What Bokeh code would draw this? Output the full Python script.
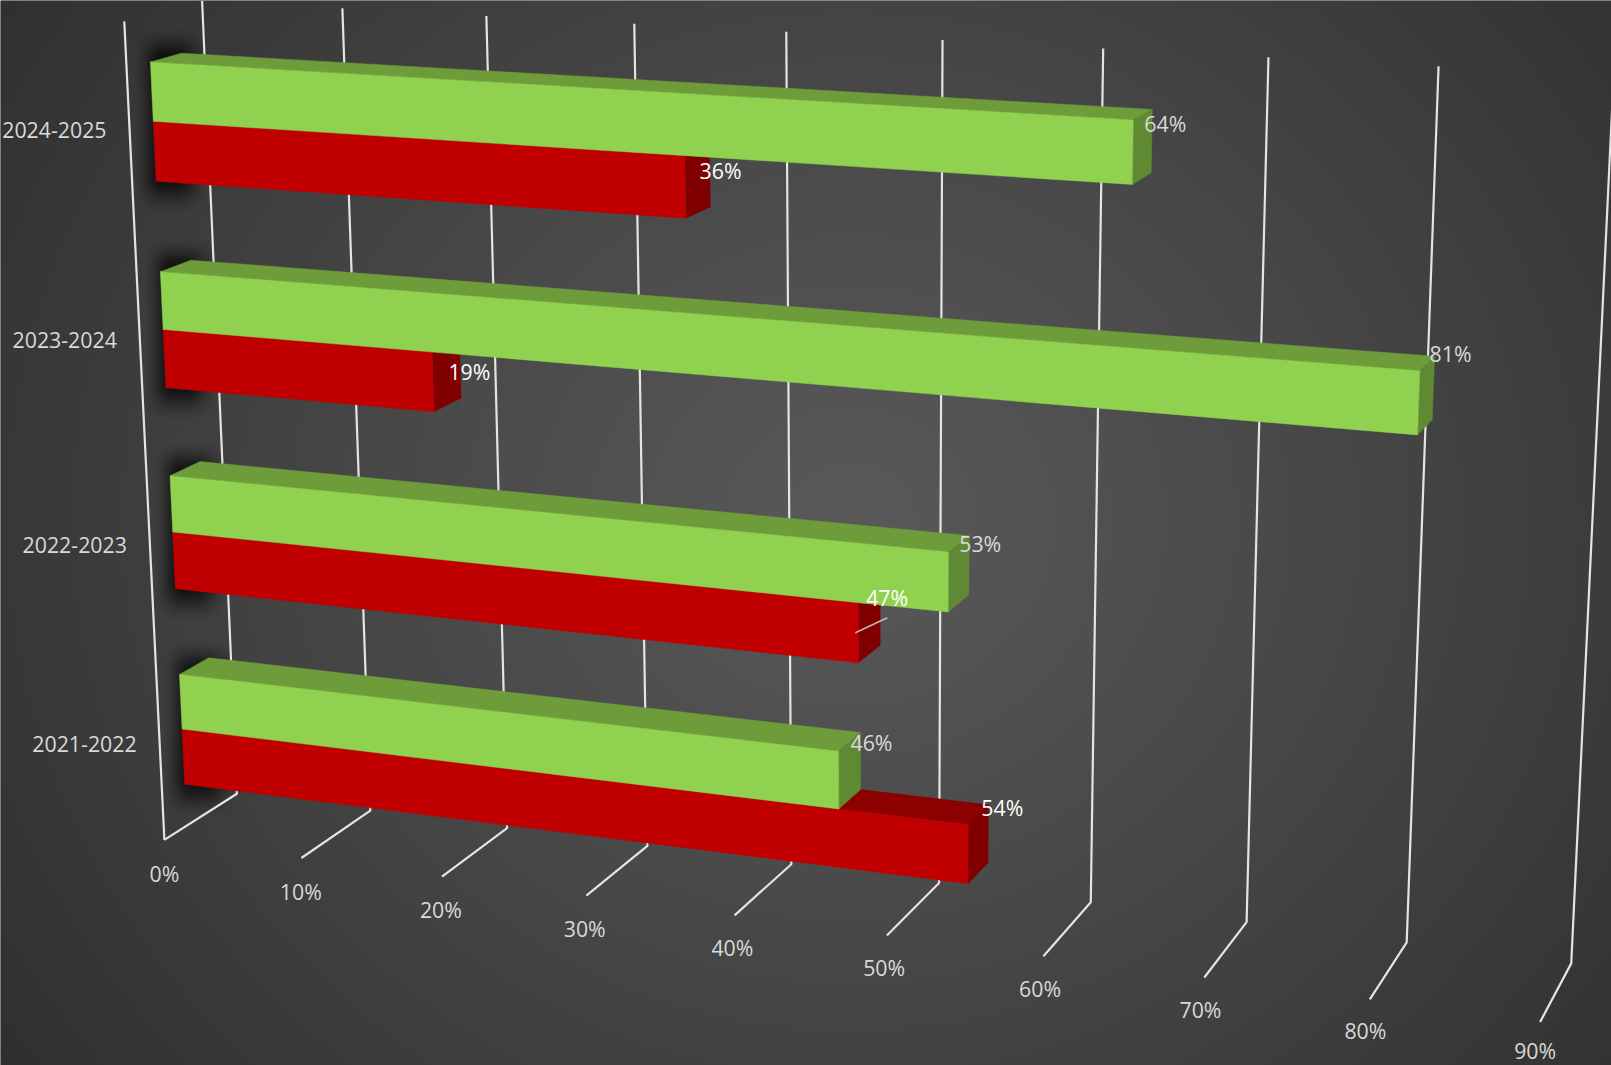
import numpy as np
from bokeh.plotting import figure
from bokeh.models import Range1d
from bokeh.core.properties import value
from bokeh.embed import file_html
from bokeh.resources import INLINE

# ---- data
categories = ["2021-2022", "2022-2023", "2023-2024", "2024-2025"]
green_values = [45.8, 52.85, 81.0, 63.9]
red_values = [54.2, 47.1, 18.95, 36.1]
tick_values = [0, 10, 20, 30, 40, 50, 60, 70, 80, 90]
tick_labels = ["0%", "10%", "20%", "30%", "40%", "50%", "60%", "70%", "80%", "90%"]

# ---- camera calibration: where the chart's box lands on the page (picture units)
K = 1611 / 1568
front_floor = [(159, 817), (293, 835), (430, 853), (570, 872), (714, 890), (863, 910),
               (1015, 930), (1172, 951), (1333, 972), (1498, 994)]
back_floor = [(230, 772), (360, 789), (493, 805), (630, 822), (770, 840), (914, 858),
              (1061, 879), (1213, 897), (1368, 918), (1529, 937)]
back_top = [(196, 0), (333, 8), (473, 16), (616, 23), (765, 30), (916, 38),
            (1074, 47), (1234, 55), (1400, 64)]
front_top_left = (121, 20)

N_CAT = 4
V_MAX = 90.0
world, image = [], []
for v, p_ in zip(tick_values, front_floor):
    world.append((v, 0, 0)); image.append(p_)
for v, p_ in zip(tick_values, back_floor):
    world.append((v, 0, 1)); image.append(p_)
for v, p_ in zip(tick_values, back_top):
    world.append((v, N_CAT, 1)); image.append(p_)
world.append((0, N_CAT, 0)); image.append(front_top_left)

rows = []
for (v, c, d), (px, py) in zip(world, image):
    X = np.array([v / V_MAX, c / N_CAT, d, 1.0])
    u, w = px * K / 1000, py * K / 1000
    rows.append(np.r_[X, np.zeros(4), -u * X])
    rows.append(np.r_[np.zeros(4), X, -w * X])
P = np.linalg.svd(np.array(rows))[2][-1].reshape(3, 4)


def project(v, c, d):
    X = np.array([v / V_MAX, c / N_CAT, d, 1.0])
    h = P @ X
    return h[0] / h[2] * 1000, h[1] / h[2] * 1000


# ---- bar shape in the box
D_FRONT, D_BACK = 0.30, 0.70
RED_LOW, MID, GREEN_HIGH = 0.215, 0.50, 0.78

W, H = 1611, 1065
p = figure(width=W, height=H, output_backend="svg", toolbar_location=None,
           x_range=Range1d(0, W), y_range=Range1d(H, 0),
           x_axis_type=None, y_axis_type=None, min_border=0,
           outline_line_color=None, background_fill_color="#3a3a3a",
           border_fill_color="#3a3a3a")
p.grid.visible = False

# ---- background: radial gradient plus the dark blur behind the bars' left ends
yy, xx = np.mgrid[0:H, 0:W]
xx = xx + 0.0
yy = yy + 0.0
CENTER = (850, 520)
t = np.sqrt(((xx - CENTER[0]) / 1100) ** 2 + ((yy - CENTER[1]) / 1000) ** 2)
t = np.clip(t, 0, 1)
shade = 89 - 44 * t ** 1.1


def sstep(a):
    a = np.clip(a, 0, 1)
    return a * a * (3 - 2 * a)


for i in range(N_CAT):
    L, T = project(0, i + GREEN_HIGH, D_FRONT)
    _, B = project(0, i + RED_LOW, D_FRONT)
    sx = sstep((xx - (L - 18)) / 30) * (1 - sstep((xx - (L + 25)) / 35))
    sy = sstep((yy - (T - 36)) / 36) * (1 - sstep((yy - (B - 6)) / 40))
    shade = shade * (1 - 0.75 * sx * sy)
g = shade.astype(np.uint32)
img = (255 << 24) | (g << 16) | (g << 8) | g
p.image_rgba(image=[img.astype(np.uint32)], x=0, y=0, dw=W, dh=H)

# ---- grid lines
GRID = "#e4e4e4"
for v in tick_values:
    a = project(v, 0, 0); b = project(v, 0, 1); c_ = project(v, N_CAT, 1)
    p.line([a[0], b[0], c_[0]], [a[1], b[1], c_[1]], line_color=GRID, line_width=2.2)
a = project(0, 0, 0); b = project(0, N_CAT, 0)
p.line([a[0], b[0]], [a[1], b[1]], line_color=GRID, line_width=2.2)


# ---- bars
def box(val, c0, c1, front, top, side):
    pts = {
        "ftl": project(0, c1, D_FRONT), "ftr": project(val, c1, D_FRONT),
        "fbl": project(0, c0, D_FRONT), "fbr": project(val, c0, D_FRONT),
        "btl": project(0, c1, D_BACK), "btr": project(val, c1, D_BACK),
        "bbr": project(val, c0, D_BACK),
    }
    faces = [(["ftl", "ftr", "btr", "btl"], top),
             (["ftr", "fbr", "bbr", "btr"], side),
             (["ftl", "ftr", "fbr", "fbl"], front)]
    for names, col in faces:
        p.patch([pts[n][0] for n in names], [pts[n][1] for n in names],
                fill_color=col, line_color=col, line_width=0.5)


for i in reversed(range(N_CAT)):
    box(red_values[i], i + RED_LOW, i + MID, "#C00000", "#8C0000", "#800000")
    box(green_values[i], i + MID, i + GREEN_HIGH, "#90D24F", "#6F9C3B", "#5F8A33")

# ---- 47% leader line
s = project(red_values[1], 1 + (RED_LOW + MID) / 2, D_FRONT)
p.line([s[0] - 3, s[0] + 29], [s[1] + 0, s[1] - 15], line_color="#d0b0b0", line_width=1.5)

# ---- labels
FONT = value("Open Sans")
SIZE = value("21.3px")
TXT = "#d9d9d9"

tx, ty = [], []
for v in tick_values:
    x_, y_ = project(v, 0, 0)
    tx.append(x_ - v * 0.055)
    ty.append(y_ + 32.5 * K - v * 0.025)
ty[-1] -= 3
p.text(x=tx, y=ty, text=tick_labels, text_font=FONT, text_font_size=SIZE, text_color=TXT,
       text_align="center", text_baseline="middle")

cx, cy = [], []
cat_dy = [2, 2, 1, 1]
for i in range(N_CAT):
    x_, y_ = project(0, i + 0.5, 0)
    cx.append(x_ - 23)
    cy.append(y_ + cat_dy[i])
p.text(x=cx, y=cy, text=categories, text_font=FONT, text_font_size=SIZE, text_color=TXT,
       text_align="right", text_baseline="middle")

green_nudge = [(-10, 10), (-10, 8), (-5, -3), (-8, 14)]
red_nudge = [(-7, 3), (-14, 12), (-11, 32), (-10, 25)]
for i in range(N_CAT):
    x_, y_ = project(green_values[i], i + GREEN_HIGH, D_BACK)
    p.text(x=[x_ + green_nudge[i][0]], y=[y_ + green_nudge[i][1]], text=[f"{green_values[i]:.0f}%"],
           text_font=FONT, text_font_size=SIZE, text_color=TXT,
           text_align="left", text_baseline="middle")
    x_, y_ = project(red_values[i], i + MID, D_BACK)
    p.text(x=[x_ + red_nudge[i][0]], y=[y_ + red_nudge[i][1]], text=[f"{red_values[i]:.0f}%"],
           text_font=FONT, text_font_size=SIZE, text_color="#ffffff",
           text_align="left", text_baseline="middle")

open("out.html", "w").write(file_html(p, INLINE))
